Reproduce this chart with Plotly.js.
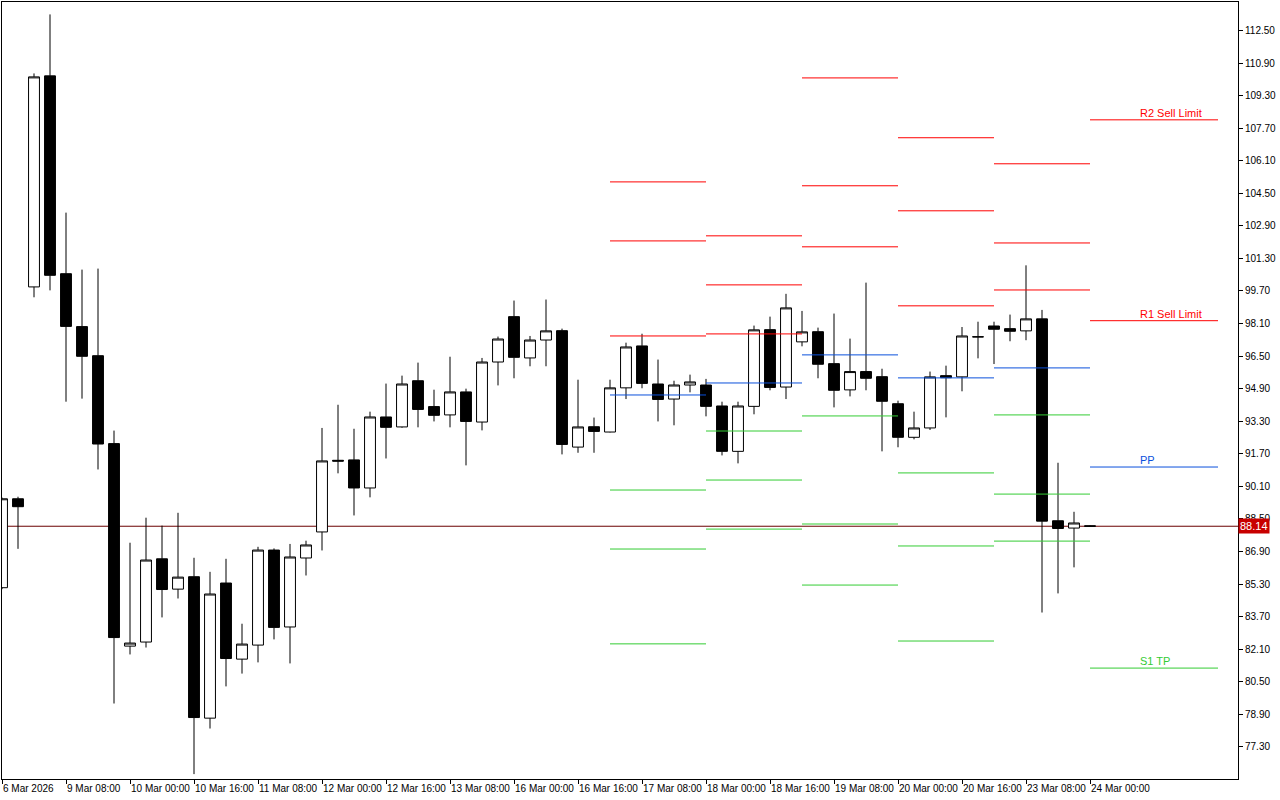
<!DOCTYPE html>
<html><head><meta charset="utf-8">
<script src="https://cdn.plot.ly/plotly-3.0.1.min.js"></script>
<style>html,body{margin:0;padding:0;background:#fff}#chart{width:1280px;height:800px}</style>
</head><body><div id="chart"></div>
<script>
// H4 bar times
const times = [
  "2026-03-06 16:00","2026-03-06 20:00",
  "2026-03-09 00:00","2026-03-09 04:00","2026-03-09 08:00","2026-03-09 12:00","2026-03-09 16:00","2026-03-09 20:00",
  "2026-03-10 00:00","2026-03-10 04:00","2026-03-10 08:00","2026-03-10 12:00","2026-03-10 16:00","2026-03-10 20:00",
  "2026-03-11 00:00","2026-03-11 04:00","2026-03-11 08:00","2026-03-11 12:00","2026-03-11 16:00","2026-03-11 20:00",
  "2026-03-12 00:00","2026-03-12 04:00","2026-03-12 08:00","2026-03-12 12:00","2026-03-12 16:00","2026-03-12 20:00",
  "2026-03-13 00:00","2026-03-13 04:00","2026-03-13 08:00","2026-03-13 12:00","2026-03-13 16:00","2026-03-13 20:00",
  "2026-03-16 00:00","2026-03-16 04:00","2026-03-16 08:00","2026-03-16 12:00","2026-03-16 16:00","2026-03-16 20:00",
  "2026-03-17 00:00","2026-03-17 04:00","2026-03-17 08:00","2026-03-17 12:00","2026-03-17 16:00","2026-03-17 20:00",
  "2026-03-18 00:00","2026-03-18 04:00","2026-03-18 08:00","2026-03-18 12:00","2026-03-18 16:00","2026-03-18 20:00",
  "2026-03-19 00:00","2026-03-19 04:00","2026-03-19 08:00","2026-03-19 12:00","2026-03-19 16:00","2026-03-19 20:00",
  "2026-03-20 00:00","2026-03-20 04:00","2026-03-20 08:00","2026-03-20 12:00","2026-03-20 16:00","2026-03-20 20:00",
  "2026-03-23 00:00","2026-03-23 04:00","2026-03-23 08:00","2026-03-23 12:00","2026-03-23 16:00","2026-03-23 20:00",
  "2026-03-24 00:00"
];
const open  = [85.12,89.49,99.90,110.27,100.55,97.95,96.52,92.20,82.25,82.45,86.54,85.05,85.66,78.71,85.35,81.61,82.30,86.97,83.19,86.58,
               87.86,91.38,91.40,90.02,93.51,93.02,95.29,94.02,93.61,94.74,93.26,96.21,98.44,96.41,97.29,97.75,92.03,93.03,92.77,94.94,
               97.00,95.13,94.39,95.08,95.08,94.05,91.82,94.03,97.80,94.98,97.20,97.70,96.13,94.84,95.74,95.49,94.16,92.51,92.97,95.54,
               95.48,97.44,97.98,97.85,97.74,98.33,88.41,88.05,88.16];
const high  = [89.55,89.59,110.39,113.29,103.55,100.75,100.80,92.84,87.33,88.56,88.17,88.80,86.59,85.90,86.54,83.35,87.13,87.05,87.27,87.43,
               92.97,94.11,92.93,93.77,95.15,95.54,96.18,94.85,96.47,94.90,96.41,97.46,99.23,97.49,99.28,97.85,95.34,93.48,95.34,97.16,
               97.60,96.33,95.29,95.59,95.38,94.26,94.26,98.00,98.44,99.56,98.72,97.90,98.59,97.36,100.11,95.88,94.31,93.77,95.74,96.03,
               97.93,98.19,98.19,98.54,100.96,98.77,91.26,88.85,88.18];
const low   = [85.05,87.03,99.39,99.73,94.26,94.41,90.93,79.43,81.84,82.18,83.66,84.59,75.96,78.20,80.27,80.90,81.45,82.58,81.40,85.72,
               86.95,90.74,88.67,89.56,91.47,92.98,93.00,93.29,93.00,91.13,92.85,95.06,95.41,96.00,96.00,91.67,91.75,91.75,92.75,94.39,
               94.92,93.29,93.10,94.72,93.54,91.62,91.23,93.64,94.82,94.39,96.98,95.41,93.98,94.52,94.82,91.82,92.02,92.41,92.87,93.49,
               94.77,96.39,96.11,97.23,97.28,83.90,84.84,86.12,88.12];
const close = [89.49,89.10,110.22,100.47,97.96,96.49,92.18,82.67,82.40,86.48,85.03,85.64,78.74,84.81,81.64,82.35,86.97,83.17,86.63,87.22,
               91.35,91.34,90.02,93.51,93.00,95.13,93.88,93.59,94.74,93.29,96.21,97.34,96.44,97.29,97.74,92.16,93.02,92.80,94.94,96.95,
               95.16,94.37,95.08,95.23,94.03,91.82,94.05,97.79,94.96,98.87,97.69,96.10,94.82,95.74,95.41,94.28,92.51,92.97,95.48,95.44,
               97.49,97.45,97.82,97.72,98.33,88.39,88.03,88.30,88.14];

// x-axis labels
const tickTimes  = ["2026-03-06 16:00","2026-03-09 08:00","2026-03-10 00:00","2026-03-10 16:00","2026-03-11 08:00","2026-03-12 00:00",
                    "2026-03-12 16:00","2026-03-13 08:00","2026-03-16 00:00","2026-03-16 16:00","2026-03-17 08:00","2026-03-18 00:00",
                    "2026-03-18 16:00","2026-03-19 08:00","2026-03-20 00:00","2026-03-20 16:00","2026-03-23 08:00","2026-03-24 00:00"];
const tickLabels = ["6 Mar 2026","9 Mar 08:00","10 Mar 00:00","10 Mar 16:00","11 Mar 08:00","12 Mar 00:00",
                    "12 Mar 16:00","13 Mar 08:00","16 Mar 00:00","16 Mar 16:00","17 Mar 08:00","18 Mar 00:00",
                    "18 Mar 16:00","19 Mar 08:00","20 Mar 00:00","20 Mar 16:00","23 Mar 08:00","24 Mar 00:00"];

// daily pivot levels
const pivotDays = ["2026-03-17","2026-03-18","2026-03-19","2026-03-20","2026-03-23","2026-03-24"];
const R3 = [105.06,102.41,110.17,107.23,105.95,null];
const R2 = [102.16,100.00,104.87,103.64,102.06,108.11];
const R1 = [97.49, 97.59, 101.87,98.97, 99.75, 98.24];
const PP = [94.59, 95.18, 96.56, 95.43, 95.92, 91.05];
const S1 = [89.92, 92.82, 93.56, 90.76, 93.61, 81.17];
const S2 = [87.02, 90.41, 88.25, 87.17, 89.72, null];
const S3 = [82.36, 88.00, 85.25, 82.50, 87.41, null];

const levelNames  = ["R2 Sell Limit","R1 Sell Limit","PP","S1 TP"];
const levelSeries = [R2, R1, PP, S1];

const currentPrice = 88.14;

const RED = "#FF0000", BLUE = "#0A50DC", GREEN = "#33CC33";
const FONT = "Liberation Sans Narrow, Arial Narrow, Liberation Sans, sans-serif";
const EXTEND_BARS = 8;

const xIdx = times.map((t, i) => i);
const dayStart = pivotDays.map(d => times.findIndex(t => t.startsWith(d)));
const dayEnd = dayStart.map((s, i) => i < dayStart.length - 1 ? dayStart[i + 1] : s + EXTEND_BARS);

function segs(series) {
  const x = [], y = [];
  series.forEach(levels => levels.forEach((v, i) => {
    if (v === null) return;
    x.push(dayStart[i], dayEnd[i], null);
    y.push(v, v, null);
  }));
  return {x, y};
}
const rS = segs([R3, R2, R1]), pS = segs([PP]), sS = segs([S1, S2, S3]);

const traces = [
  {type: "candlestick", x: xIdx, open, high, low, close,
   increasing: {line: {color: "#000", width: 1}, fillcolor: "#FFFFFF"},
   decreasing: {line: {color: "#000", width: 1}, fillcolor: "#000000"},
   whiskerwidth: 0, hoverinfo: "skip"},
  {type: "scatter", mode: "lines", x: rS.x, y: rS.y, line: {color: RED, width: 1}, hoverinfo: "skip"},
  {type: "scatter", mode: "lines", x: pS.x, y: pS.y, line: {color: BLUE, width: 1}, hoverinfo: "skip"},
  {type: "scatter", mode: "lines", x: sS.x, y: sS.y, line: {color: GREEN, width: 1}, hoverinfo: "skip"}
];

const last = pivotDays.length - 1;
const levelColors = [RED, RED, BLUE, GREEN];
const annotations = levelNames.map((name, k) => ({
  x: dayStart[last] + 3, y: levelSeries[k][last], xref: "x", yref: "y",
  text: name, showarrow: false, xanchor: "left", yanchor: "bottom", yshift: -1,
  font: {family: "Liberation Sans, Arial, sans-serif", size: 11, color: levelColors[k]}
}));
annotations.push({
  x: 1, xref: "paper", y: currentPrice, yref: "y", text: currentPrice.toFixed(2),
  showarrow: false, xanchor: "left", yanchor: "middle", bgcolor: "#C80000",
  font: {family: FONT, size: 11, color: "#FFFFFF"}, borderpad: 1
});

const layout = {
  width: 1280, height: 800,
  margin: {l: 2, r: 42, t: 2, b: 21},
  paper_bgcolor: "#FFFFFF", plot_bgcolor: "#FFFFFF",
  showlegend: false, hovermode: false,
  boxgap: 0.32, boxgroupgap: 0,
  xaxis: {
    type: "linear", range: [0, 77.25], fixedrange: true,
    rangeslider: {visible: false},
    showgrid: false, zeroline: false,
    showline: true, mirror: true, linecolor: "#000", linewidth: 1,
    tickmode: "array", tickvals: tickTimes.map(t => times.indexOf(t)), ticktext: tickLabels,
    ticks: "outside", ticklen: 4, tickcolor: "#000", tickwidth: 1,
    tickangle: 0, automargin: false,
    ticklabelposition: "outside right",
    tickfont: {family: FONT, size: 10, color: "#000"}
  },
  yaxis: {
    side: "right", range: [75.72, 113.9], fixedrange: true,
    showgrid: false, zeroline: false,
    showline: true, mirror: true, linecolor: "#000", linewidth: 1,
    tick0: 77.3, dtick: 1.6, tickformat: ".2f", automargin: false,
    ticks: "outside", ticklen: 4, tickcolor: "#000", tickwidth: 1,
    tickfont: {family: FONT, size: 10, color: "#000"}
  },
  shapes: [{
    type: "line", xref: "paper", x0: 0, x1: 1, yref: "y", y0: currentPrice, y1: currentPrice,
    line: {color: "#6A0000", width: 1}, layer: "below"
  }],
  annotations
};

Plotly.newPlot("chart", traces, layout, {displayModeBar: false, staticPlot: true});
</script>
</body></html>
